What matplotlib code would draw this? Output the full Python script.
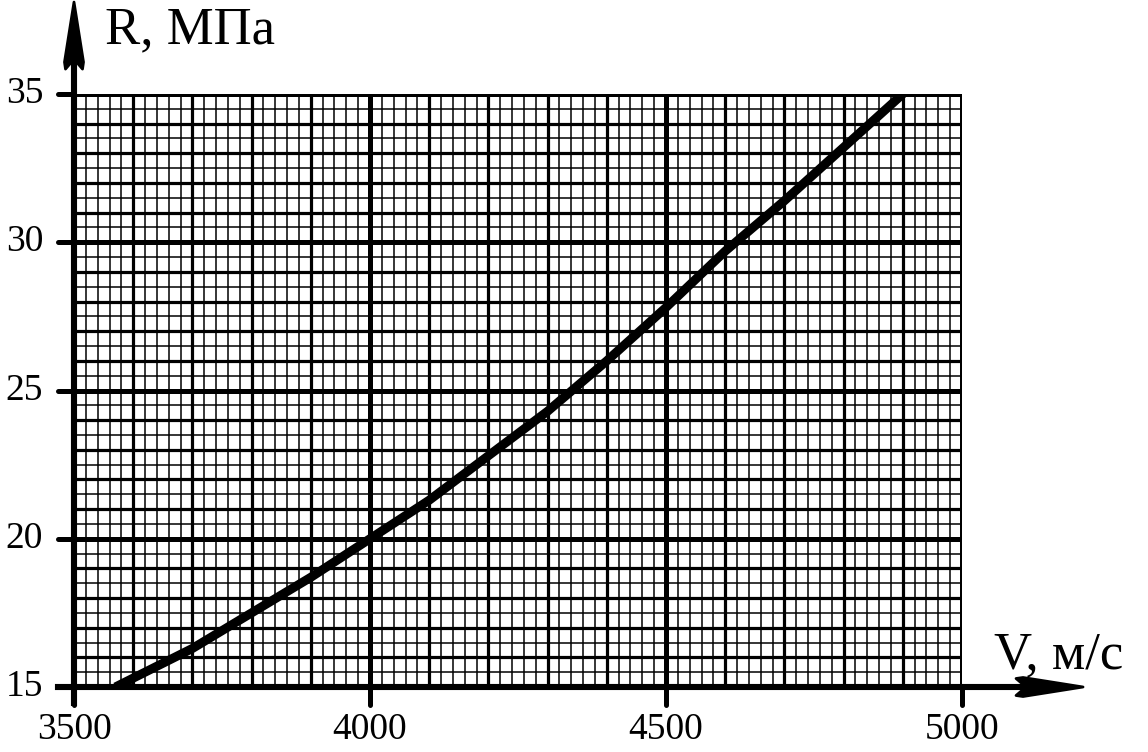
import matplotlib
matplotlib.use('Agg')
import matplotlib.pyplot as plt
import matplotlib.transforms as mtransforms
import numpy as np

# данные
V = [3570, 3700, 3800, 3900, 4000, 4100, 4200, 4300, 4400, 4500, 4600, 4700, 4800, 4900]
R = [15.0, 16.3, 17.5, 18.7, 20.0, 21.3, 22.8, 24.3, 26.0, 27.8, 29.7, 31.4, 33.2, 35.0]
x_ticks = [3500, 4000, 4500, 5000]
y_ticks = [15, 20, 25, 30, 35]

plt.rcParams['font.family'] = ['Liberation Serif', 'DejaVu Serif']

fig = plt.figure(figsize=(11.48, 7.52), dpi=100)
ax = fig.add_axes([74 / 1148, 65 / 752, 888 / 1148, 593 / 752])
ax.set_xlim(3500, 5000)
ax.set_ylim(15, 35)
for s in ax.spines.values():
    s.set_visible(False)
ax.set_xticks([])
ax.set_yticks([])

# миллиметровка: тонкие, средние, толстые линии
xf = np.arange(3500, 5001, 20)
yf = np.arange(15, 35.01, 0.5)
ax.vlines(xf, 15, 35, color='k', lw=1.1, zorder=1)
ax.hlines(yf, 3500, 5000, color='k', lw=1.1, zorder=1)
ax.vlines(np.arange(3500, 5001, 100), 15, 35, color='k', lw=2.3, zorder=2)
ax.hlines(np.arange(15, 35.01, 1), 3500, 5000, color='k', lw=2.3, zorder=2)
ax.vlines(x_ticks, 15, 35, color='k', lw=3.6, zorder=3)
ax.hlines(y_ticks, 3500, 5000, color='k', lw=3.6, zorder=3)

# выступы делений
ax.vlines(x_ticks, 14.4, 15, color='k', lw=3.6, clip_on=False, capstyle='round')
ax.hlines(y_ticks, 3473, 3500, color='k', lw=3.6, clip_on=False, capstyle='round')

# кривая
ax.plot(V, R, color='k', lw=6.5, solid_capstyle='butt', zorder=5)

# оси со стрелками (наконечник задан в дюймах от острия)
head = np.array([[0.0, 0.0], [0.095, -0.60], [0.085, -0.67], [0.0, -0.57],
                 [-0.085, -0.67], [-0.095, -0.60]])


def arrow_head(xa, ya, vertical):
    pts = head if vertical else head[:, ::-1]
    tr = fig.dpi_scale_trans + mtransforms.ScaledTranslation(xa, ya, ax.transAxes)
    ax.fill(pts[:, 0], pts[:, 1], color='k', lw=2, joinstyle='round',
            transform=tr, clip_on=False, zorder=6)


ax.plot([0, 0], [-0.027, 1.10], color='k', lw=4.4, transform=ax.transAxes,
        clip_on=False, zorder=6)
arrow_head(0, 1.155, True)
ax.plot([-0.018, 1.08], [0, 0], color='k', lw=4.4, transform=ax.transAxes,
        clip_on=False, zorder=6)
arrow_head(1.1363, 0, False)

# подписи делений
for yt in y_ticks:
    ax.text(3448, yt, str(yt), fontsize=27, ha='right', va='center')
for xt in x_ticks:
    ax.text(xt, 14.15, str(xt), fontsize=27, ha='center', va='top')

ax.text(0.035, 1.085, 'R, МПа', transform=ax.transAxes, fontsize=38,
        ha='left', va='baseline')
ax.text(1.036, 0.032, 'V, м/с', transform=ax.transAxes, fontsize=38,
        ha='left', va='baseline')

plt.savefig('out.png', dpi=100)
